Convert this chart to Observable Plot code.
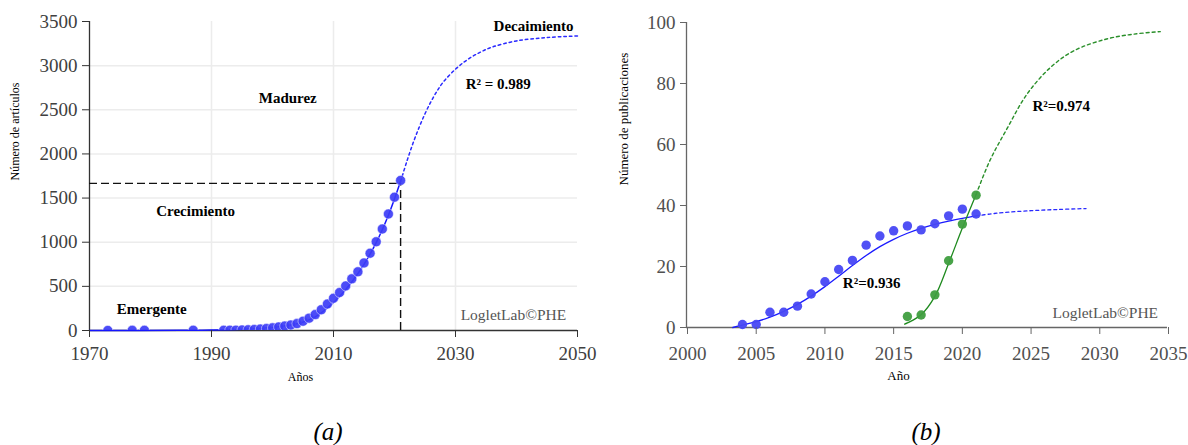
<!DOCTYPE html>
<html><head><meta charset="utf-8">
<script src="https://cdn.jsdelivr.net/npm/d3@7"></script>
<script src="https://cdn.jsdelivr.net/npm/@observablehq/plot@0.6"></script>
<style>
body{margin:0;background:#fff;}
#wrap{position:relative;width:1188px;height:445px;font-family:"Liberation Serif",serif;overflow:hidden;}
#pa{position:absolute;left:0;top:0;}
#pb{position:absolute;left:600px;top:0;}
.cap{position:absolute;top:417px;font-style:italic;font-size:25px;line-height:30px;width:60px;text-align:center;color:#000;}
</style></head><body>
<div id="wrap"><div id="pa"></div><div id="pb"></div>
<div class="cap" style="left:298px">(a)</div><div class="cap" style="left:896px">(b)</div></div>
<script>
// ---------- Panel (a) data ----------
const aYears = [1973,1977,1979,1987,1992,1993,1994,1995,1996,1997,1998,1999,2000,2001,2002,2003,2004,2005,2006,2007,2008,2009,2010,2011,2012,2013,2014,2015,2016,2017,2018,2019,2020,2021];
const aCounts = [1,2,2,3,2,3,4,6,8,11,16,22,30,40,50,62,78,105,140,180,235,300,365,430,505,585,665,765,875,1005,1150,1320,1510,1700];
const aFitYears = [1970,1985,1990,1995,2000,2003,2005,2007,2009,2011,2013,2015,2017,2019,2021];
const aFitValues = [0,2,6,15,35,62,95,155,255,385,550,750,995,1305,1690];
const aProjYears = [2021,2022,2023,2024,2025,2026,2027,2028,2030,2032,2034,2036,2040,2045,2050];
const aProjValues = [1690,1910,2115,2295,2455,2595,2715,2815,2960,3070,3150,3210,3280,3318,3337];
const aXTicks = [1970,1990,2010,2030,2050];
const aYTicks = [0,500,1000,1500,2000,2500,3000,3500];
const aGridX = [1990,2010,2030];
const aGridY = [500,1000,1500,2000,2500,3000];
const aMidYear = 2021, aMidValue = 1666;
const aLabels = ["Emergente","Crecimiento","Madurez","Decaimiento","R² = 0.989"];
const aLabelYears = [1980.2,1987.4,2002.5,2042.8,2037.0];
const aLabelValues = [246,1350,2626,3445,2785];
const aLogoYear = 2039.5, aLogoValue = 170;

// ---------- Panel (b) data ----------
const bBlueYears = [2004,2005,2006,2007,2008,2009,2010,2011,2012,2013,2014,2015,2016,2017,2018,2019,2020,2021];
const bBlueCounts = [1,1,5,5,7,11,15,19,22,27,30,31.7,33.3,32,34,36.6,38.8,37.2];
const bGreenYears = [2016,2017,2018,2019,2020,2021];
const bGreenCounts = [3.6,4.1,10.7,21.9,33.9,43.4];
const bBlueFitYears = [2003.3,2004,2005,2006,2007,2008,2009,2010,2011,2012,2013,2014,2015,2016,2017,2018,2019,2020,2021];
const bBlueFitValues = [0,0.8,1.9,3.4,5.3,7.6,10.3,13.4,16.8,20.3,23.6,26.5,28.9,30.9,32.5,33.8,34.9,35.8,36.6];
const bBlueProjYears = [2021,2022,2023,2025,2027,2029];
const bBlueProjValues = [36.6,37.2,37.7,38.3,38.7,39];
const bGreenFitYears = [2015.8,2016,2017,2018,2019,2020,2021];
const bGreenFitValues = [1.1,1.5,4.2,10.2,21,32.6,43.6];
const bGreenProjYears = [2021,2022,2023.3,2024.7,2026.4,2028.1,2030.5,2032.5,2034.4];
const bGreenProjValues = [43.6,54.7,65.6,76.5,85.2,90.7,94.6,96.2,97];
const bXTicks = [2000,2005,2010,2015,2020,2025,2030,2035];
const bYTicks = [0,20,40,60,80,100];
const bLabels = ["R²=0.974","R²=0.936"];
const bLabelYears = [2027.2,2013.4];
const bLabelValues = [72.4,14.6];
const bLogoYear = 2030.4, bLogoValue = 4.8;

const FONT = "Liberation Serif";
const CURVE = "catmull-rom";
const zip = (xs, ys) => xs.map((x, i) => ({x, y: ys[i]}));

// ---------- Panel (a) ----------
const aPts = zip(aYears, aCounts);
const aFit = zip(aFitYears, aFitValues);
const aProj = zip(aProjYears, aProjValues);
const aLab = aLabels.map((t, i) => ({t, x: aLabelYears[i], y: aLabelValues[i]}));

const plotA = Plot.plot({
  width: 600, height: 400,
  marginLeft: 89, marginRight: 23, marginTop: 21, marginBottom: 70,
  style: {fontFamily: FONT, color: "#404040", background: "#fff"},
  x: {domain: [1970, 2050]},
  y: {domain: [0, 3500]},
  marks: [
    Plot.ruleY(aGridY, {x1: 1970, x2: 2050, stroke: "#ececec", strokeWidth: 1.5}),
    Plot.ruleX(aGridX, {y1: 0, y2: 3500, stroke: "#ececec", strokeWidth: 1.5}),
    Plot.ruleX([1970], {y1: 0, y2: 3500, stroke: "#333", strokeWidth: 1.3}),
    Plot.ruleY([0], {x1: 1970, x2: 2050, stroke: "#333", strokeWidth: 1.3}),
    Plot.ruleY([aMidValue], {x1: 1970, x2: aMidYear, stroke: "#111", strokeWidth: 1.4, strokeDasharray: "8,4"}),
    Plot.ruleX([aMidYear], {y1: 0, y2: aMidValue, stroke: "#111", strokeWidth: 1.4, strokeDasharray: "8,4"}),
    Plot.line(aFit, {x: "x", y: "y", curve: CURVE, stroke: "#1515ff", strokeWidth: 1.5}),
    Plot.line(aProj, {x: "x", y: "y", curve: CURVE, stroke: "#2a2aff", strokeWidth: 1.5, strokeDasharray: "2.5,3"}),
    Plot.dot(aPts, {x: "x", y: "y", r: 5, fill: "#3d3df6", fillOpacity: 0.92, stroke: "#fff", strokeWidth: 0.8, strokeOpacity: 0.6, clip: true}),
    Plot.text(aLab, {x: "x", y: "y", text: "t", fontSize: 15, fontWeight: "bold", fill: "#000", fontFamily: FONT}),
    Plot.text(["LogletLab©PHE"], {x: aLogoYear, y: aLogoValue, fontSize: 15.5, fill: "#555", fontFamily: FONT}),
    Plot.axisX({ticks: aXTicks, tickFormat: d => String(d), tickSize: 7, tickPadding: 9, fontSize: 19, label: null, stroke: "#333"}),
    Plot.axisY({ticks: aYTicks, tickFormat: d => String(d), tickSize: 7, tickPadding: 5, fontSize: 19, label: null, stroke: "#333"}),
    Plot.text(["Número de artículos"], {frameAnchor: "left", rotate: -90, dx: -74, dy: 4.5, fontSize: 12, fill: "#000", fontFamily: FONT}),
    Plot.text(["Años"], {frameAnchor: "bottom", dx: -33, dy: 50, fontSize: 12, fill: "#000", fontFamily: FONT})
  ]
});
document.getElementById("pa").appendChild(plotA);

// ---------- Panel (b) ----------
const bBlue = zip(bBlueYears, bBlueCounts);
const bGreen = zip(bGreenYears, bGreenCounts);
const bLab = bLabels.map((t, i) => ({t, x: bLabelYears[i], y: bLabelValues[i]}));

const plotB = Plot.plot({
  width: 588, height: 400,
  marginLeft: 87, marginRight: 20, marginTop: 22, marginBottom: 73,
  style: {fontFamily: FONT, color: "#505050", background: "#fff"},
  x: {domain: [2000, 2035]},
  y: {domain: [0, 100]},
  marks: [
    Plot.ruleX([2000], {y1: 0, y2: 100, stroke: "#666", strokeWidth: 1.3, dx: -1}),
    Plot.ruleY([0], {x1: 2000, x2: 2035, stroke: "#666", strokeWidth: 1.3, dx: -1}),
    Plot.line(zip(bBlueFitYears, bBlueFitValues), {x: "x", y: "y", curve: CURVE, stroke: "#1a1aff", strokeWidth: 1.3}),
    Plot.line(zip(bBlueProjYears, bBlueProjValues), {x: "x", y: "y", curve: CURVE, stroke: "#2a2aff", strokeWidth: 1.3, strokeDasharray: "3,3"}),
    Plot.line(zip(bGreenFitYears, bGreenFitValues), {x: "x", y: "y", curve: CURVE, stroke: "#1e8a1e", strokeWidth: 1.3}),
    Plot.line(zip(bGreenProjYears, bGreenProjValues), {x: "x", y: "y", curve: CURVE, stroke: "#2a8f2a", strokeWidth: 1.4, strokeDasharray: "3,3"}),
    Plot.dot(bBlue, {x: "x", y: "y", r: 4.7, fill: "#4747f4", fillOpacity: 0.95}),
    Plot.dot(bGreen, {x: "x", y: "y", r: 4.7, fill: "#3f9e3f", fillOpacity: 0.95}),
    Plot.text(bLab, {x: "x", y: "y", text: "t", fontSize: 15, fontWeight: "bold", fill: "#000", fontFamily: FONT}),
    Plot.text(["LogletLab©PHE"], {x: bLogoYear, y: bLogoValue, fontSize: 15.5, fill: "#555", fontFamily: FONT}),
    Plot.axisX({ticks: bXTicks, tickFormat: d => String(d), tickSize: 7, tickPadding: 12, fontSize: 19, label: null, stroke: "#666"}),
    Plot.axisY({ticks: bYTicks, tickFormat: d => String(d), tickSize: 7, tickPadding: 5, fontSize: 19, label: null, stroke: "#666"}),
    Plot.text(["Número de publicaciones"], {frameAnchor: "left", rotate: -90, dx: -64, dy: 10.5, fontSize: 13, fill: "#000", fontFamily: FONT}),
    Plot.text(["Año"], {frameAnchor: "bottom", dx: -29.5, dy: 52, fontSize: 13, fill: "#000", fontFamily: FONT})
  ]
});
document.getElementById("pb").appendChild(plotB);
</script>
</body></html>
